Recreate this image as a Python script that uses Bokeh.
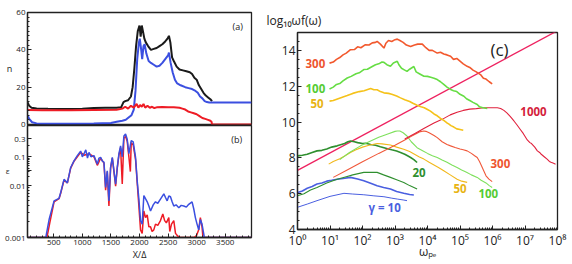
import numpy as np
from bokeh.plotting import figure
from bokeh.models import Range1d, FixedTicker, LinearAxis, LogAxis, Label, Title
from bokeh.layouts import row, column
from bokeh.embed import file_html
from bokeh.resources import INLINE

FONT = "Open Sans"
INK = "#222222"

# ---------------- panel (a): n vs X/Delta ----------------
a_black_x = [40, 70, 110, 200, 400, 600, 800, 1000, 1200, 1400, 1600, 1680, 1720, 1750, 1800, 1850, 1880, 1910,
             1940, 1970, 2000, 2020, 2040, 2060, 2085, 2110, 2150, 2200, 2250, 2300, 2350, 2400, 2450, 2490, 2515,
             2540, 2570, 2600, 2650, 2700, 2760, 2820, 2880, 2920, 2960, 3000, 3040, 3080, 3120, 3160, 3200, 3240, 3270]
a_black_n = [12, 10, 9, 8.6, 8.4, 8.3, 8.3, 8.4, 8.8, 9, 9, 9.3, 12, 12.5, 13, 15, 20, 30,
             42, 50, 53, 47, 53, 50, 46, 44, 42, 40, 40.5, 41, 42, 43, 44.5, 46, 47.5,
             44, 36, 34, 31, 29.5, 29, 28.5, 28, 27, 25, 24, 21, 19, 17, 15.5, 14.5, 13.5, 12.5]
a_blue_x = [40, 70, 120, 200, 400, 800, 1200, 1500, 1600, 1700, 1760, 1820, 1860, 1900, 1930, 1960, 1990, 2005,
            2030, 2047, 2070, 2090, 2120, 2160, 2200, 2250, 2300, 2350, 2400, 2450, 2500, 2515, 2545, 2580, 2620,
            2660, 2720, 2800, 2860, 2920, 2980, 3020, 3060, 3100, 3140, 3180, 3220, 3960]
a_blue_n = [5, 3, 1.2, 0.6, 0.4, 0.4, 0.5, 0.8, 1.5, 2, 2.5, 4, 5, 8, 18, 35, 44, 46,
            40, 35, 42, 43, 38, 34, 33, 32, 31, 31.5, 33, 35, 37, 38.5, 33, 28, 24,
            22, 21, 20, 19.5, 19, 18, 17, 15, 14, 12.5, 12, 11.8, 11.8]
a_red_x = [40, 300, 800, 1200, 1600, 1700, 1750, 1800, 1850, 1900, 1950, 1980, 2010, 2040, 2070, 2100, 2140, 2180,
           2220, 2260, 2300, 2400, 2500, 2600, 2700, 2750, 2800, 2850, 2900, 2950, 3000, 3050, 3100, 3150, 3200,
           3240, 3260, 3270, 3960]
a_red_n = [7.8, 7.7, 7.7, 7.8, 7.9, 8.5, 9.5, 8.5, 10, 9, 11, 9, 10.5, 9.5, 11, 9, 10, 9,
           9.5, 8.8, 9.2, 9.4, 9.2, 9.3, 9, 8.5, 8, 7, 6.5, 6, 5.5, 4.5, 3.5, 3, 2.5,
           2, 1.5, 0, 0]
a_n_ticks = [0, 20, 40, 60]
x_ticks = [500, 1000, 1500, 2000, 2500, 3000, 3500]

# ---------------- panel (b): epsilon vs X/Delta ----------------
b_blue = [(40, 0.001), (360, 0.001), (418, 0.0022), (505, 0.005), (592, 0.0056), (621, 0.0072), (679, 0.016),
          (738, 0.012), (796, 0.042), (854, 0.072), (912, 0.107), (970, 0.14), (1000, 0.10), (1029, 0.12),
          (1060, 0.15), (1090, 0.09), (1116, 0.13), (1150, 0.10), (1203, 0.107), (1230, 0.08), (1262, 0.055),
          (1290, 0.09), (1320, 0.095), (1350, 0.07), (1378, 0.065), (1407, 0.009), (1436, 0.032), (1465, 0.005),
          (1494, 0.042), (1524, 0.095), (1553, 0.032), (1582, 0.0107), (1611, 0.042), (1640, 0.12), (1669, 0.19),
          (1698, 0.10), (1727, 0.34), (1756, 0.38), (1785, 0.28), (1814, 0.12), (1855, 0.26), (1890, 0.24),
          (1931, 0.095), (1960, 0.014), (1989, 0.0054), (2018, 0.0021), (2047, 0.0018), (2076, 0.0063),
          (2105, 0.0055), (2135, 0.0048), (2164, 0.004), (2193, 0.0032), (2240, 0.0042), (2280, 0.0048),
          (2320, 0.0045), (2367, 0.0054), (2426, 0.0068), (2455, 0.0058), (2484, 0.005), (2513, 0.0062),
          (2542, 0.006), (2571, 0.0048), (2600, 0.004), (2640, 0.0042), (2688, 0.0037), (2730, 0.0041),
          (2775, 0.004), (2820, 0.0038), (2862, 0.0043), (2920, 0.0048), (2950, 0.0035), (2978, 0.0024),
          (3007, 0.0018), (3036, 0.0014), (3065, 0.0022), (3094, 0.0018), (3135, 0.001), (3960, 0.001)]
b_red = [(40, 0.001), (380, 0.001), (430, 0.0019), (505, 0.0048), (592, 0.0055), (621, 0.007), (679, 0.015),
         (738, 0.012), (796, 0.04), (854, 0.07), (912, 0.10), (970, 0.13), (1029, 0.11), (1116, 0.12),
         (1203, 0.10), (1262, 0.05), (1320, 0.09), (1378, 0.06), (1407, 0.008), (1436, 0.03), (1465, 0.004),
         (1494, 0.04), (1524, 0.09), (1553, 0.03), (1582, 0.0095), (1611, 0.04), (1640, 0.11), (1669, 0.17),
         (1698, 0.011), (1727, 0.3), (1756, 0.33), (1785, 0.25), (1814, 0.1), (1840, 0.03), (1855, 0.23),
         (1890, 0.2), (1931, 0.08), (1960, 0.012), (1989, 0.004), (2018, 0.0014), (2047, 0.0012), (2076, 0.0032),
         (2105, 0.0024), (2135, 0.0027), (2164, 0.0016), (2193, 0.0016), (2220, 0.0013), (2250, 0.0014),
         (2280, 0.0018), (2320, 0.0017), (2367, 0.0021), (2408, 0.0028), (2440, 0.0021), (2470, 0.0019),
         (2513, 0.0024), (2530, 0.0013), (2560, 0.0018), (2600, 0.0021), (2630, 0.0012), (2658, 0.0011),
         (2700, 0.001), (2960, 0.001), (3000, 0.0011), (3036, 0.0014), (3065, 0.0024), (3094, 0.0016),
         (3110, 0.001), (3960, 0.001)]
eps_ticks = [0.001, 0.01, 0.1, 0.3]
eps_tick_labels = ["0.001", "0.01", "0.1", "0.3"]
# the original epsilon axis is not uniform in log: where each labelled value sits (frame px from bottom)
eps_axis_pos = [0.0, 52.4, 80.7, 99.4]
eps_name_pos = 67.0   # where the axis name "ε" sits along that axis

# ---------------- panel (c): log10 omega f(omega) vs omega_pe ----------------
c300_up = [(0.985, 13.29), (1.1, 13.35), (1.2, 13.5), (1.3, 13.6), (1.4, 13.75), (1.5, 13.85), (1.63, 14.04),
           (1.75, 14.05), (1.85, 14.2), (1.95, 14.15), (2.09, 14.32), (2.2, 14.3), (2.3, 14.42), (2.4, 14.45),
           (2.45, 14.5), (2.55, 14.35), (2.66, 14.13), (2.72, 14.4), (2.8, 14.55), (2.9, 14.5), (3.0, 14.6),
           (3.07, 14.63), (3.15, 14.55), (3.25, 14.45), (3.35, 14.3), (3.48, 14.22), (3.6, 14.3), (3.7, 14.35),
           (3.84, 14.35), (3.95, 14.15), (4.05, 14.0), (4.15, 14.0), (4.3, 13.85), (4.4, 13.9), (4.5, 13.8),
           (4.6, 13.75), (4.71, 13.67), (4.8, 13.5), (4.9, 13.55), (5.0, 13.4), (5.1, 13.25), (5.22, 13.11),
           (5.3, 13.05), (5.4, 12.9), (5.5, 12.8), (5.63, 12.65), (5.72, 12.45), (5.8, 12.4), (5.9, 12.25),
           (5.99, 12.13)]
c100_up = [(0.985, 11.85), (1.1, 11.95), (1.2, 12.1), (1.3, 12.15), (1.4, 12.3), (1.53, 12.46), (1.65, 12.55),
           (1.8, 12.7), (1.9, 12.75), (2.04, 12.93), (2.15, 12.95), (2.3, 13.1), (2.4, 13.2), (2.5, 13.25),
           (2.6, 13.35), (2.66, 13.33), (2.75, 13.2), (2.86, 13.11), (2.95, 13.3), (3.07, 13.39), (3.12, 13.2),
           (3.2, 13.0), (3.3, 12.9), (3.37, 12.83), (3.45, 12.95), (3.58, 13.1), (3.65, 12.8), (3.75, 12.7),
           (3.89, 12.56), (4.0, 12.55), (4.1, 12.5), (4.2, 12.45), (4.3, 12.37), (4.4, 12.25), (4.5, 12.1),
           (4.6, 11.95), (4.71, 11.82), (4.8, 11.75), (4.9, 11.7), (5.0, 11.55), (5.12, 11.44), (5.2, 11.3),
           (5.3, 11.2), (5.4, 11.1), (5.53, 10.98), (5.6, 10.85), (5.7, 10.8), (5.84, 10.76)]
c50_up = [(0.985, 11.17), (1.1, 11.2), (1.25, 11.3), (1.4, 11.4), (1.53, 11.48), (1.7, 11.6), (1.9, 11.7),
          (2.05, 11.75), (2.25, 11.87), (2.35, 11.8), (2.45, 11.8), (2.55, 11.7), (2.66, 11.63), (2.8, 11.6),
          (2.9, 11.55), (3.05, 11.45), (3.17, 11.35), (3.3, 11.25), (3.45, 11.15), (3.55, 11.05), (3.68, 10.94),
          (3.8, 10.85), (3.9, 10.8), (4.0, 10.7), (4.09, 10.61), (4.2, 10.45), (4.3, 10.35), (4.4, 10.2),
          (4.5, 10.09), (4.6, 9.95), (4.65, 9.9), (4.72, 9.8), (4.81, 9.72), (4.9, 9.62), (5.0, 9.58), (5.1, 9.54)]
c1000 = [(3.3, 9.05), (3.6, 9.35), (3.9, 9.65), (4.2, 9.95), (4.45, 10.15), (4.7, 10.4), (4.91, 10.55),
         (5.1, 10.65), (5.3, 10.72), (5.5, 10.75), (5.73, 10.8), (6.0, 10.8), (6.15, 10.8), (6.25, 10.76),
         (6.35, 10.65), (6.45, 10.5), (6.55, 10.3), (6.66, 10.06), (6.75, 9.85), (6.85, 9.6), (6.95, 9.35),
         (7.07, 9.0), (7.15, 8.85), (7.2, 8.8), (7.3, 8.6), (7.38, 8.39), (7.45, 8.3), (7.5, 8.2), (7.6, 8.05),
         (7.68, 7.93), (7.75, 7.8), (7.8, 7.75), (7.88, 7.7), (7.94, 7.65)]
c300_lo = [(1.1, 6.91), (1.5, 7.3), (2.0, 7.78), (2.5, 8.25), (3.0, 8.7), (3.3, 9.0), (3.5, 9.2), (3.65, 9.35),
           (3.75, 9.45), (3.89, 9.5), (3.95, 9.48), (4.05, 9.4), (4.2, 9.25), (4.3, 9.13), (4.45, 8.9), (4.6, 8.75),
           (4.71, 8.67), (4.85, 8.58), (5.0, 8.5), (5.1, 8.45), (5.22, 8.39), (5.35, 8.25), (5.45, 8.12),
           (5.53, 8.02), (5.6, 7.8), (5.65, 7.6), (5.73, 7.28), (5.8, 7.0), (5.89, 6.81), (5.99, 6.67)]
c100_lo = [(1.3, 7.9), (1.6, 8.3), (1.94, 8.67), (2.2, 8.9), (2.5, 9.15), (2.8, 9.35), (3.0, 9.48), (3.07, 9.5),
           (3.15, 9.5), (3.25, 9.4), (3.37, 9.22), (3.5, 8.9), (3.68, 8.57), (3.85, 8.4), (4.0, 8.25), (4.15, 8.12),
           (4.3, 8.02), (4.45, 7.88), (4.6, 7.75), (4.75, 7.6), (4.91, 7.46), (5.05, 7.32), (5.2, 7.2),
           (5.35, 7.05), (5.53, 6.91), (5.65, 6.75), (5.8, 6.6), (5.9, 6.45), (5.99, 6.35)]
c50_lo = [(0.96, 7.65), (1.1, 7.8), (1.3, 7.95), (1.45, 8.1), (1.63, 8.3), (1.8, 8.45), (2.0, 8.6), (2.2, 8.7),
          (2.45, 8.8), (2.6, 8.78), (2.86, 8.72), (3.05, 8.6), (3.27, 8.48), (3.45, 8.35), (3.6, 8.2),
          (3.75, 8.05), (3.89, 7.93), (4.05, 7.75), (4.2, 7.6), (4.35, 7.45), (4.5, 7.28), (4.7, 7.05),
          (4.91, 6.81), (5.05, 6.7), (5.22, 6.63)]
c20_up = [(0, 8.11), (0.15, 8.15), (0.3, 8.2), (0.45, 8.3), (0.6, 8.39), (0.75, 8.42), (0.9, 8.5), (1.05, 8.6),
          (1.22, 8.67), (1.35, 8.75), (1.45, 8.8), (1.55, 8.9), (1.63, 8.94), (1.75, 8.9), (1.85, 8.85),
          (2.0, 8.8), (2.1, 8.82), (2.25, 8.75), (2.4, 8.7), (2.55, 8.62), (2.66, 8.57), (2.8, 8.5), (2.9, 8.45),
          (3.05, 8.38), (3.17, 8.3), (3.3, 8.2), (3.4, 8.1), (3.48, 8.02), (3.58, 7.9), (3.68, 7.74)]
c20_lo = [(0, 5.89), (0.2, 6.0), (0.4, 6.2), (0.6, 6.35), (0.9, 6.6), (1.22, 6.81), (1.5, 6.95), (1.7, 7.05),
          (2.04, 7.19), (2.25, 7.2), (2.45, 7.19), (2.65, 7.05), (2.86, 6.91), (3.05, 6.78), (3.27, 6.63),
          (3.45, 6.45), (3.68, 6.26)]
c10_up = [(0, 6.07), (0.15, 6.15), (0.3, 6.3), (0.45, 6.4), (0.6, 6.54), (0.75, 6.6), (0.9, 6.7), (1.05, 6.75),
          (1.22, 6.81), (1.4, 6.85), (1.63, 6.91), (1.85, 6.82), (2.04, 6.72), (2.25, 6.58), (2.45, 6.44),
          (2.65, 6.35), (2.86, 6.26), (3.05, 6.12), (3.27, 6.02), (3.45, 5.95), (3.58, 5.93)]
c10_lo = [(0, 5.24), (0.3, 5.42), (0.6, 5.61), (1.0, 5.85), (1.43, 6.02), (1.7, 5.98), (2.04, 5.94), (2.35, 5.88),
          (2.66, 5.83), (2.9, 5.75), (3.07, 5.7), (3.25, 5.65), (3.37, 5.61)]
c_ref_logw = [0, 8]
c_ref_val = [7.3, 15.1]
c_y_ticks = [4, 6, 8, 10, 12, 14]
c_x_decades = [0, 1, 2, 3, 4, 5, 6, 7, 8]

SUP = str.maketrans("0123456789", "⁰¹²³⁴⁵⁶⁷⁸⁹")


def eps_to_axis(e):
    le = np.log10(np.asarray(e, dtype=float))
    lt = np.log10(eps_ticks)
    out = np.interp(le, lt, eps_axis_pos)
    slope = (eps_axis_pos[-1] - eps_axis_pos[-2]) / (lt[-1] - lt[-2])
    hi = le > lt[-1]
    out[hi] = eps_axis_pos[-1] + (le[hi] - lt[-1]) * slope
    return out


def style_axis(ax, size="8px"):
    ax.axis_line_color = INK
    ax.axis_line_width = 1.3
    ax.major_tick_in = 4
    ax.major_tick_out = 0
    ax.minor_tick_in = 2
    ax.minor_tick_out = 0
    ax.major_tick_line_color = INK
    ax.minor_tick_line_color = INK
    ax.major_label_text_font = FONT
    ax.major_label_text_color = INK
    ax.major_label_text_font_size = size
    ax.major_label_standoff = 2
    ax.axis_label_text_font = FONT
    ax.axis_label_text_font_style = "normal"
    ax.axis_label_text_color = INK
    ax.axis_label_standoff = 1


def base_fig(**kw):
    p = figure(output_backend="svg", toolbar_location=None, x_axis_location=None, y_axis_location=None, **kw)
    p.grid.visible = False
    p.outline_line_color = INK
    p.outline_line_width = 1.3
    p.background_fill_color = "white"
    p.border_fill_color = None
    return p


def lbl(p, x, y, text, size, color=INK, align="left", baseline="middle", style="normal"):
    p.add_layout(Label(x=x, y=y, text=text, text_font=FONT, text_font_size=size, text_color=color,
                       text_align=align, text_baseline=baseline, text_font_style=style))


x_minor = list(range(100, 3960, 100))

# ---- figure (a)
fa = base_fig(frame_width=224, frame_height=112, x_range=Range1d(40, 3960), y_range=Range1d(0, 60),
              min_border_left=27, min_border_right=3, min_border_top=12, min_border_bottom=7)
n_minor = [i * 2.5 for i in range(0, 25)]
ax = LinearAxis(ticker=FixedTicker(ticks=a_n_ticks, minor_ticks=n_minor), axis_label="n")
style_axis(ax)
ax.axis_label_orientation = "horizontal"
ax.axis_label_text_font_size = "9px"
fa.add_layout(ax, "left")
fa.line(a_black_x, a_black_n, line_color="#1a1a1a", line_width=2)
fa.line(a_blue_x, a_blue_n, line_color="#3b4fe0", line_width=2)
fa.line(a_red_x, a_red_n, line_color="#ee1c25", line_width=2)
lbl(fa, 3719, 52.5, "(a)", "9px", align="center")

# ---- figure (b)  (pulled up so that its frame meets the frame of (a))
fb = base_fig(frame_width=224, frame_height=112, x_range=Range1d(40, 3960), y_range=Range1d(0, 112),
              min_border_left=27, min_border_right=3, min_border_top=1, min_border_bottom=20,
              margin=(-7, 0, 0, 0))
tick_pos = [float(v) for v in eps_to_axis(eps_ticks)]
minor_vals = [k * 0.001 for k in range(2, 10)] + [k * 0.01 for k in range(2, 10)] + [0.2]
minor_pos = [float(v) for v in eps_to_axis(minor_vals)]
ax = LinearAxis(ticker=FixedTicker(ticks=tick_pos + [eps_name_pos], minor_ticks=minor_pos))
style_axis(ax)
overrides = {tp: t for tp, t in zip(tick_pos, eps_tick_labels)}
overrides[eps_name_pos] = "ε\u2003\u2003"
ax.major_label_overrides = overrides
fb.add_layout(ax, "left")
ax = LinearAxis(ticker=FixedTicker(ticks=x_ticks, minor_ticks=x_minor), axis_label="X/Δ")
style_axis(ax)
ax.axis_label_text_font_size = "9px"
ax.axis_label_standoff = 0
fb.add_layout(ax, "below")
bx_r, be_r = zip(*b_red)
bx_b, be_b = zip(*b_blue)
fb.line(list(bx_r), eps_to_axis(be_r), line_color="#ee1c25", line_width=1.5)
fb.line(list(bx_b), eps_to_axis(be_b), line_color="#3b4fe0", line_width=1.5)
lbl(fb, 3702, 98, "(b)", "9px", align="center")

# ---- figure (c)
fc = base_fig(frame_width=260, frame_height=197, x_axis_type="log", x_range=Range1d(1, 1e8),
              y_range=Range1d(4, 15), min_border_left=43, min_border_right=12, min_border_top=32,
              min_border_bottom=20)
fc.add_layout(Title(text="log₁₀ωf(ω)", align="left", offset=-31, standoff=8, text_font=FONT,
                    text_font_size="12px", text_font_style="normal", text_color=INK), "above")
dec_ticks = [10 ** k for k in c_x_decades]
dec_minor = [m * 10 ** k for k in c_x_decades[:-1] for m in range(2, 10)]
ax = LogAxis(ticker=FixedTicker(ticks=dec_ticks, minor_ticks=dec_minor), axis_label="ωₚₑ")
style_axis(ax, size="12px")
ax.major_label_overrides = {10 ** k: "10" + str(k).translate(SUP) for k in c_x_decades}
ax.axis_label_text_font_size = "12px"
ax.axis_label_standoff = -9
fc.add_layout(ax, "below")
ax = LinearAxis(ticker=FixedTicker(ticks=c_y_ticks, minor_ticks=[4 + 0.5 * i for i in range(23)]))
style_axis(ax, size="12px")
fc.add_layout(ax, "left")


def cline(data, color, width):
    lw, v = zip(*data)
    fc.line([10 ** k for k in lw], list(v), line_color=color, line_width=width)


fc.line([10 ** k for k in c_ref_logw], c_ref_val, line_color="#ee2260", line_width=1.3)
cline(c10_lo, "#4a5fe0", 1)
cline(c10_up, "#4a5fe0", 1.6)
cline(c20_lo, "#2f8f2f", 1.1)
cline(c20_up, "#2f8f2f", 1.6)
cline(c50_lo, "#f2b81c", 1.1)
cline(c100_lo, "#7ee05c", 1.1)
cline(c300_lo, "#f0583a", 1.1)
cline(c1000, "#e0203c", 1.1)
cline(c50_up, "#f5c21a", 1.6)
cline(c100_up, "#66dd44", 1.6)
cline(c300_up, "#f2592e", 1.6)

lbl(fc, 1.64e6, 14.06, "(c)", "17px", align="center")
lbl(fc, 1.76, 13.28, "300", "11.5px", color="#ee5530", style="bold")
lbl(fc, 1.76, 11.89, "100", "11.5px", color="#55cc33", style="bold")
lbl(fc, 2.51, 11.06, "50", "11.5px", color="#e8b414", style="bold")
lbl(fc, 7.2e6, 10.61, "1000", "11.5px", color="#d41e3c", style="bold")
lbl(fc, 3450, 7.17, "20", "11.5px", color="#2f8f2f", style="bold")
lbl(fc, 63000, 6.28, "50", "11.5px", color="#e8b414", style="bold")
lbl(fc, 3.7e5, 6.0, "100", "11.5px", color="#55cc33", style="bold")
lbl(fc, 8.7e5, 7.67, "300", "11.5px", color="#ee5530", style="bold")
lbl(fc, 153, 5.22, "γ = 10", "11.5px", color="#4a5fe0", style="bold")

layout = row(column(fa, fb), fc)
open("out.html", "w").write(file_html(layout, INLINE))
